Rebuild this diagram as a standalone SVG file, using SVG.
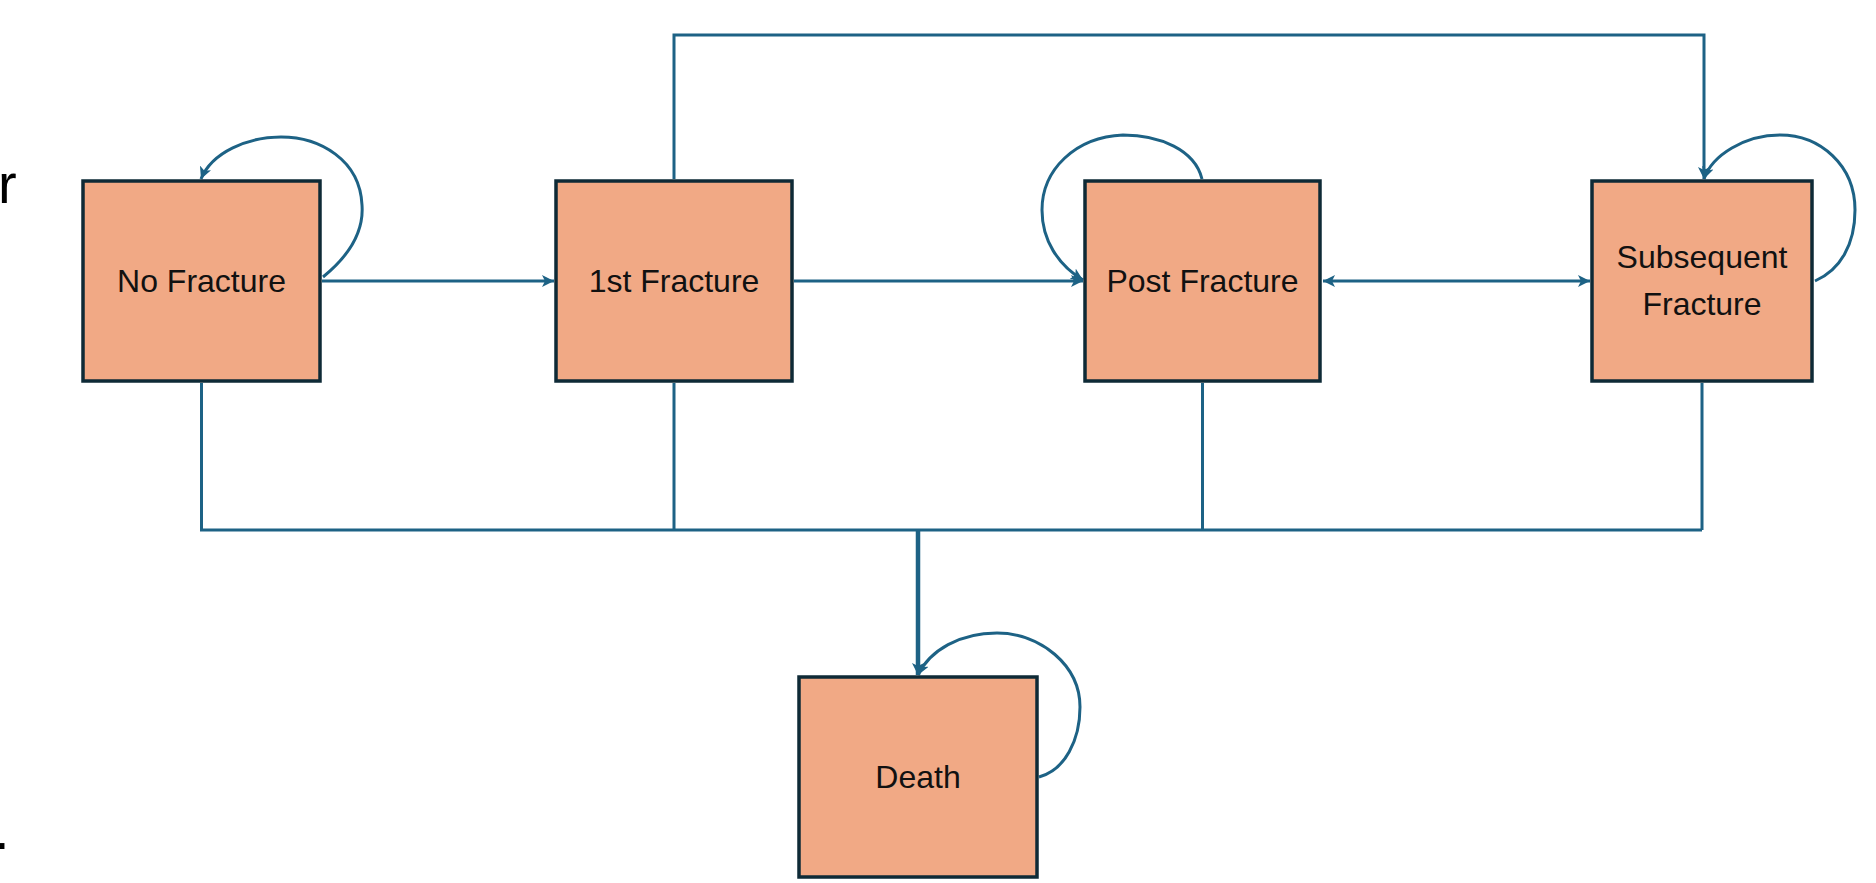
<svg xmlns="http://www.w3.org/2000/svg" width="1876" height="883" viewBox="0 0 1876 883">
<style>
.box{fill:#f1a985;stroke:#0e2a36;stroke-width:3.5}
.lbl{font-family:"Liberation Sans",Arial,sans-serif;font-size:32px;fill:#111;text-anchor:middle}
.frag{font-family:"Liberation Sans",Arial,sans-serif;font-size:56px;fill:#000}
.c{fill:none;stroke:#1d6285;stroke-width:3}
.thick{stroke-width:4.5}
</style>
<defs>
<marker id="ah" markerUnits="userSpaceOnUse" markerWidth="12" markerHeight="12" refX="12" refY="6" orient="auto-start-reverse" viewBox="0 0 12 12">
<path d="M0,0 L12,6 L0,12 L3,6 z" fill="#1d6285"/>
</marker>
</defs>
<rect width="1876" height="883" fill="#fff"/>
<text class="frag" x="-2" y="203">r</text>
<text class="frag" x="-6" y="849">.</text>
<g id="connectors">
<path class="c" d="M201.5 383 V530 H1702 M674 383 V530 M1202.5 383 V530 M1702 383 V530"/>
<path class="c thick" d="M918 530 V675" marker-end="url(#ah)"/>
<path class="c" d="M674 179 V35 H1704 V179" marker-end="url(#ah)"/>
<path class="c" d="M322 281 H554" marker-end="url(#ah)"/>
<path class="c" d="M794 281 H1083" marker-end="url(#ah)"/>
<path class="c" d="M1323 281 H1590" marker-start="url(#ah)" marker-end="url(#ah)"/>
<path class="c" d="M323 277 C350 255 364 232 362 205 C360 160 320 137 281 137 C248 137 212 152 201 179" marker-end="url(#ah)"/>
<path class="c" d="M1202 179 C1195 150 1160 135 1123 135 C1075 137 1042 170 1042 210 C1042 240 1058 265 1083 280" marker-end="url(#ah)"/>
<path class="c" d="M1815 281 C1840 270 1855 245 1855 210 C1855 165 1820 135 1780 135 C1745 135 1712 155 1704 179" marker-end="url(#ah)"/>
<path class="c" d="M1039 777 C1065 770 1080 740 1080 707 C1080 665 1040 633 997 633 C960 633 930 650 918 675" marker-end="url(#ah)"/>
</g>
<g id="no-fracture">
<rect class="box" x="83" y="181" width="237" height="200"/>
<text class="lbl" x="201.5" y="292">No Fracture</text>
</g>
<g id="first-fracture">
<rect class="box" x="556" y="181" width="236" height="200"/>
<text class="lbl" x="674" y="292">1st Fracture</text>
</g>
<g id="post-fracture">
<rect class="box" x="1085" y="181" width="235" height="200"/>
<text class="lbl" x="1202.5" y="292">Post Fracture</text>
</g>
<g id="subsequent-fracture">
<rect class="box" x="1592" y="181" width="220" height="200"/>
<text class="lbl" x="1702" y="268">Subsequent</text>
<text class="lbl" x="1702" y="315">Fracture</text>
</g>
<g id="death">
<rect class="box" x="799" y="677" width="238" height="200"/>
<text class="lbl" x="918" y="788">Death</text>
</g>
</svg>
